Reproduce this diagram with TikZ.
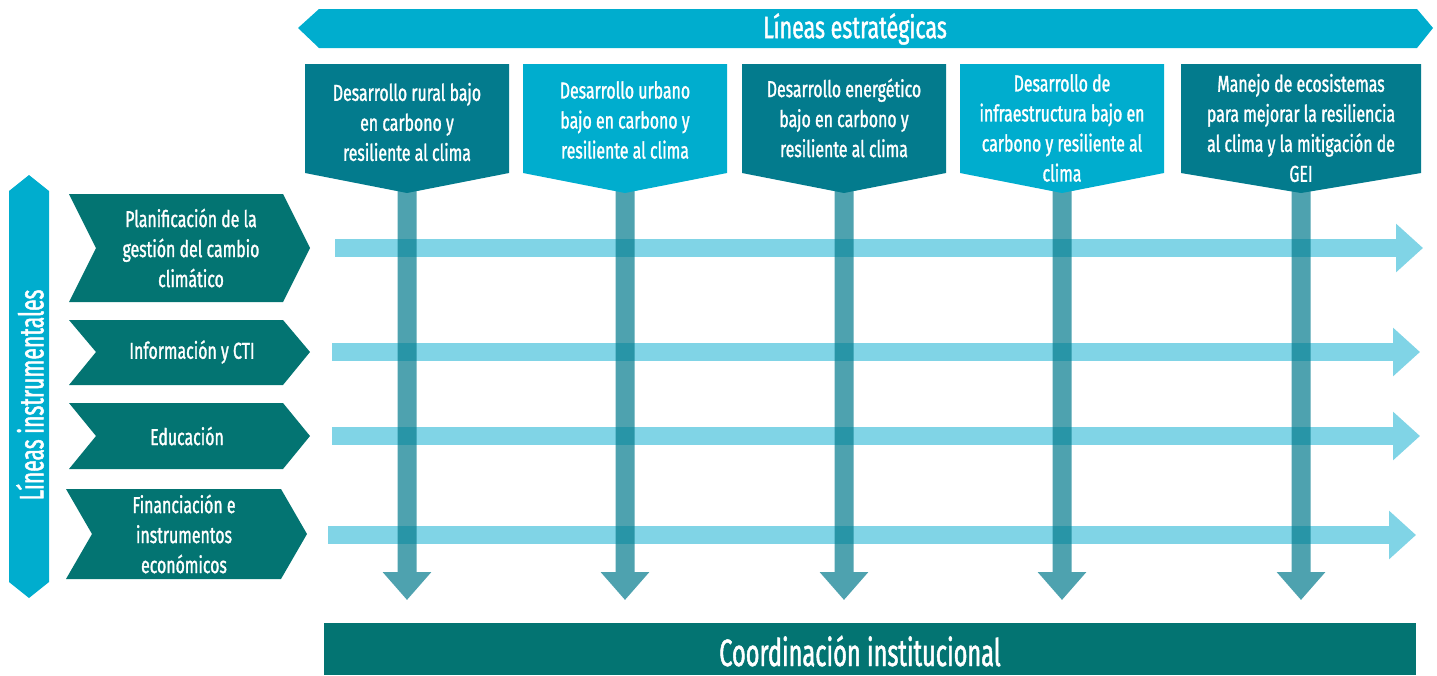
\documentclass[tikz,border=0pt]{standalone}
\usepackage{fontspec}
\setmainfont{Fira Sans}[FakeStretch=0.69, FakeBold=1.3]
\newfontfamily\narrowfont{Fira Sans}[FakeStretch=0.62, FakeBold=1.3]
\usepackage{xcolor}
\usetikzlibrary{arrows.meta}

\definecolor{bannerblue}{RGB}{0,173,206}
\definecolor{stratdark}{RGB}{3,123,141}
\definecolor{instrteal}{RGB}{3,116,114}
\definecolor{rowblue}{RGB}{128,212,230}

\tikzset{
  boxtext/.style={text=white, align=center, font=\fontsize{23}{30}\selectfont},
  harrow/.style={draw=rowblue, line width=18pt, -{Triangle[width=47pt,length=27pt]}},
  varrow/.style={draw=stratdark, line width=19pt, -{Triangle[width=47pt,length=28pt]}},
}

\begin{document}
\begin{tikzpicture}[x=1pt,y=1pt,yscale=-1,xscale=1]
        \useasboundingbox (0,0) rectangle (1437,675);

        %Shape: Banner
        \draw  [draw=none, fill=bannerblue] (298,28) -- (319,9) -- (1417,9) -- (1433,28) -- (1417,48) -- (319,48) -- cycle ;
        \node [text=white, font=\fontsize{31}{36}\selectfont] (lest) at (855,29) {Líneas estratégicas};

        %Shape: Side banner
        \draw  [draw=none, fill=bannerblue] (29,175) -- (49,191) -- (49,582) -- (29,598) -- (9,582) -- (9,191) -- cycle ;
        \node [text=white, rotate=90, font=\narrowfont\fontsize{34}{40}\selectfont] (linst) at (30,395) {Líneas instrumentales};

        %Horizontal arrows
        \coordinate (h1a) at (335,248);  \coordinate (h1b) at (1423,248);
        \coordinate (h2a) at (332,352);  \coordinate (h2b) at (1420,352);
        \coordinate (h3a) at (332,436);  \coordinate (h3b) at (1420,436);
        \coordinate (h4a) at (328,535);  \coordinate (h4b) at (1416,535);
        \draw [harrow] (h1a) -- (h1b);
        \draw [harrow] (h2a) -- (h2b);
        \draw [harrow] (h3a) -- (h3b);
        \draw [harrow] (h4a) -- (h4b);

        %Vertical arrows
        \coordinate (v1a) at (407,186);  \coordinate (v1b) at (407,600);
        \coordinate (v2a) at (625,186);  \coordinate (v2b) at (625,600);
        \coordinate (v3a) at (844,186);  \coordinate (v3b) at (844,600);
        \coordinate (v4a) at (1062,186); \coordinate (v4b) at (1062,600);
        \coordinate (v5a) at (1301,186); \coordinate (v5b) at (1301,600);
        \begin{scope}[transparency group, opacity=0.7]
        \draw [varrow] (v1a) -- (v1b);
        \draw [varrow] (v2a) -- (v2b);
        \draw [varrow] (v3a) -- (v3b);
        \draw [varrow] (v4a) -- (v4b);
        \draw [varrow] (v5a) -- (v5b);
        \end{scope}

        %Shape: Pentagon
        \draw  [draw=none, fill=stratdark] (305,64) -- (509,64) -- (509,173) -- (407,193) -- (305,173) -- cycle ;
        \node [boxtext] (s1) at (407,122) {Desarrollo rural bajo\\en carbono y\\resiliente al clima};
        %Shape: Pentagon
        \draw  [draw=none, fill=bannerblue] (523,64) -- (727,64) -- (727,173) -- (625,193) -- (523,173) -- cycle ;
        \node [boxtext] (s2) at (625,120) {Desarrollo urbano\\bajo en carbono y\\resiliente al clima};
        %Shape: Pentagon
        \draw  [draw=none, fill=stratdark] (742,64) -- (946,64) -- (946,173) -- (844,193) -- (742,173) -- cycle ;
        \node [boxtext] (s3) at (844,118) {Desarrollo energético\\bajo en carbono y\\resiliente al clima};
        %Shape: Pentagon
        \draw  [draw=none, fill=bannerblue] (960,64) -- (1164,64) -- (1164,173) -- (1062,193) -- (960,173) -- cycle ;
        \node [boxtext] (s4) at (1062,128) {Desarrollo de\\infraestructura bajo en\\carbono y resiliente al\\clima};
        %Shape: Pentagon
        \draw  [draw=none, fill=stratdark] (1181,64) -- (1421,64) -- (1421,173) -- (1301,193) -- (1181,173) -- cycle ;
        \node [boxtext] (s5) at (1301,128) {Manejo de ecosistemas\\para mejorar la resiliencia\\al clima y la mitigación de\\GEI};

        %Shape: Chevron
        \draw  [draw=none, fill=instrteal] (69,194) -- (283,194) -- (310,248) -- (283,302) -- (69,302) -- (96,248) -- cycle ;
        \node [boxtext] (c1) at (191,248) {Planificación de la\\gestión del cambio\\climático};
        %Shape: Chevron
        \draw  [draw=none, fill=instrteal] (69,320) -- (283,320) -- (310,352) -- (283,385) -- (69,385) -- (96,352) -- cycle ;
        \node [boxtext] (c2) at (192,352) {Información y CTI};
        %Shape: Chevron
        \draw  [draw=none, fill=instrteal] (69,403) -- (283,403) -- (310,436) -- (283,469) -- (69,469) -- (96,436) -- cycle ;
        \node [boxtext] (c3) at (187,436) {Educación};
        %Shape: Chevron
        \draw  [draw=none, fill=instrteal] (66,489) -- (281,489) -- (307,534) -- (281,579) -- (66,579) -- (92,534) -- cycle ;
        \node [boxtext] (c4) at (184,534) {Financiación e\\instrumentos\\económicos};

        %Shape: Rectangle
        \draw  [draw=none, fill=instrteal] (324,623) -- (1416,623) -- (1416,675) -- (324,675) -- cycle ;
        \node [text=white, font=\narrowfont\fontsize{38}{44}\selectfont] (coord) at (860,651) {Coordinación institucional};
\end{tikzpicture}
\end{document}
